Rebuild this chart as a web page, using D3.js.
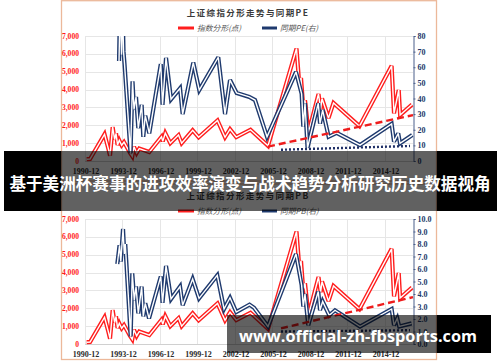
<!DOCTYPE html>
<html><head><meta charset="utf-8">
<script src="https://cdn.jsdelivr.net/npm/d3@7/dist/d3.min.js"></script>
<style>body{margin:0;background:#fff;overflow:hidden}svg{display:block}</style>
</head><body>
<script>
// ---------- DATA ----------
const xTickYears = [1990.917,1993.917,1996.917,1999.917,2002.917,2005.917,2008.917,2011.917,2014.917];
const xTickLabels = ["1990-12","1993-12","1996-12","1999-12","2002-12","2005-12","2008-12","2011-12","2014-12"];
const leftTicks = [0,1000,2000,3000,4000,5000,6000,7000];
const peTicks = [0,10,20,30,40,50,60,70,80];
const pbTicks = [0,1,2,3,4,5,6,7,8,9,10];
const titles = ["上证综指分形走势与同期PE","上证综指分形走势与同期PB"];
const legendIndex = "指数分形(点)";
const legendPE = "同期PE(右)";
const legendPB = "同期PB(右)";
const bannerText = "基于美洲杯赛事的进攻效率演变与战术趋势分析研究历史数据视角";
const watermarkText = "www.official-zh-fbsports.com";

// index fractal (points) : [year, value]
const indexFractal = [
 [1991.05,100],[1991.32,110],[1992.48,1500],[1992.78,700],[1992.92,300],[1993.13,1900],
 [1993.29,1200],[1993.40,1550],[1993.52,900],[1993.66,1160],[1993.85,880],[1994.04,1060],
 [1994.52,450],[1994.70,260],[1994.84,800],[1995.05,450],[1995.26,700],[1996.06,500],
 [1997.04,1360],[1997.14,1100],[1997.34,1560],[1997.74,1000],[1998.40,1450],[1998.65,1000],
 [1999.53,1720],[2000.01,1330],[2001.52,2270],[2002.12,1330],[2002.52,1780],[2003.02,1340],
 [2004.16,1750],[2005.56,850],[2007.84,6300],[2008.06,4300],[2008.20,4650],[2008.38,3000],
 [2008.52,3400],[2008.80,1600],[2009.60,3750],[2009.77,2900],[2009.88,3500],[2010.40,2400],
 [2010.80,3250],[2012.88,1950],[2015.45,5330],[2015.64,2670],[2016.02,3976],[2016.13,2576],
 [2017.08,3160]
];
// PE (right axis)
const peSeries = [
 [1993.64,64],[1993.72,100],[1993.84,68],[1993.92,100],[1994.00,70],[1994.08,62],
 [1994.56,5],[1994.72,51],[1994.84,33],[1995.00,41],[1995.18,21],[1995.45,36],
 [1995.58,15.5],[1995.74,29],[1996.06,17.7],[1996.98,62],[1997.12,36],[1997.40,66],
 [1997.80,39.5],[1998.52,46.5],[1998.73,30],[1999.58,63],[2000.06,45.4],[2001.58,66.4],
 [2002.12,30],[2002.52,51.8],[2003.05,43.5],[2004.06,41],[2004.52,39],[2005.48,15.5],
 [2007.80,57],[2008.25,43],[2008.38,22],[2008.52,37],[2008.72,8.5],[2009.58,37],
 [2009.72,24],[2009.93,32.6],[2010.41,15.5],[2011.05,18],[2012.92,10.2],[2015.45,23.7],
 [2015.64,12.4],[2015.98,17.7],[2016.12,11.3],[2017.10,16.6]
];
// PB (right axis)
const pbSeries = [
 [1993.50,6.4],[1993.68,7.9],[1993.78,6.6],[1993.96,9.2],[1994.06,7.2],[1994.14,8.0],
 [1994.57,0.6],[1994.70,5.65],[1994.86,3.5],[1995.00,4.6],[1995.18,2.45],[1995.45,4.6],
 [1995.58,2.2],[1995.74,3.25],[1996.04,2.05],[1996.98,5.4],[1997.12,3.3],[1997.40,6.25],
 [1997.80,3.6],[1998.52,4.6],[1998.73,3.1],[1999.53,5.2],[2000.04,3.65],[2001.50,5.5],
 [2002.04,2.8],[2002.52,3.7],[2003.02,2.55],[2004.08,3.15],[2004.44,2.9],[2005.56,1.4],
 [2007.80,7.2],[2008.25,4.7],[2008.38,3.0],[2008.52,4.0],[2008.78,1.5],[2009.58,4.2],
 [2009.72,2.7],[2009.93,3.4],[2010.46,2.3],[2010.92,2.7],[2012.92,1.4],[2015.45,2.8],
 [2015.64,1.5],[2015.90,2.05],[2016.06,1.4],[2017.05,1.65]
];
const peTrend = [[2005.56,9.2],[2017.16,29.4]];
const peFloor = [[2006.60,7.2],[2016.92,9.6]];
const pbTrend = [[2006.60,1.25],[2017.16,3.75]];
const pbFloor = [[2006.60,1.0],[2016.92,1.1]];

// ---------- DRAW ----------
const W = 500, H = 362;
const RED = "#ff1e1e", NAVY = "#1f3a6e";
const svg = d3.select("body").append("svg").attr("width", W).attr("height", H);
const x = d3.scaleLinear().domain([1990.917, 2017.16]).range([85, 413]);

function drawChart(cfg, idx) {
  const plotTop = cfg.plotTop, plotBot = plotTop + 125;
  const yL = d3.scaleLinear().domain([0, 7000]).range([plotBot, plotTop]);
  const yR = d3.scaleLinear().domain([0, cfg.rightMax]).range([plotBot, plotTop]);
  const g = svg.append("g");

  g.append("rect").attr("x", 61.5).attr("y", cfg.boxTop).attr("width", 375)
   .attr("height", cfg.boxBot - cfg.boxTop).attr("fill", "#fff")
   .attr("stroke", "#ecb89a").attr("stroke-width", 1.3);

  g.append("text").attr("x", 248).attr("y", plotTop - 20).attr("text-anchor", "middle")
   .attr("font-family", "Noto Sans CJK SC").attr("font-weight", "bold").attr("font-size", 8.5)
   .attr("letter-spacing", 1.4).attr("fill", "#3a3a3a").text(cfg.title);

  const ly = plotTop - 8;
  g.append("line").attr("x1", 178).attr("x2", 194).attr("y1", ly).attr("y2", ly)
   .attr("stroke", RED).attr("stroke-width", 3);
  g.append("text").attr("x", 197).attr("y", ly + 3).attr("font-family", "Noto Sans CJK SC")
   .attr("font-style", "italic").attr("font-size", 7.8).attr("fill", "#555").text(legendIndex);
  g.append("line").attr("x1", 262).attr("x2", 277).attr("y1", ly).attr("y2", ly)
   .attr("stroke", NAVY).attr("stroke-width", 3);
  g.append("text").attr("x", 280).attr("y", ly + 3).attr("font-family", "Noto Sans CJK SC")
   .attr("font-style", "italic").attr("font-size", 7.8).attr("fill", "#555").text(cfg.legend2);

  g.selectAll(".hg").data(leftTicks).join("line")
   .attr("x1", 85).attr("x2", 413).attr("y1", d => Math.round(yL(d)) + 0.5).attr("y2", d => Math.round(yL(d)) + 0.5)
   .attr("stroke", "#e6e6e6").attr("stroke-width", 1);
  g.selectAll(".vg").data(xTickYears).join("line")
   .attr("x1", d => Math.round(x(d)) + 0.5).attr("x2", d => Math.round(x(d)) + 0.5)
   .attr("y1", plotTop).attr("y2", plotBot)
   .attr("stroke", "#e6e6e6").attr("stroke-width", 1);
  g.append("line").attr("x1", 85).attr("x2", 413).attr("y1", plotBot + 0.5).attr("y2", plotBot + 0.5)
   .attr("stroke", "#d0d0d0");

  g.selectAll(".ll").data(leftTicks).join("text")
   .attr("x", 79).attr("y", d => yL(d) + 2.6).attr("text-anchor", "end")
   .attr("font-family", "Liberation Serif").attr("font-weight", "bold").attr("font-size", 7.6)
   .attr("fill", "#ff1a1a").text(d => d3.format(",")(d));

  const ra = g.append("g").attr("transform", `translate(413.5,0)`)
   .call(d3.axisRight(yR).tickValues(cfg.rightTicks).tickSize(2).tickFormat(cfg.rightFmt).tickPadding(2));
  ra.select(".domain").attr("stroke", "#4a5f8a");
  ra.selectAll(".tick line").attr("stroke", "#4a5f8a");
  ra.selectAll("text").attr("font-family", "Liberation Serif").attr("font-weight", "bold")
   .attr("font-size", 8).attr("fill", "#22386a");

  g.selectAll(".xl").data(xTickYears).join("text")
   .attr("x", (d) => x(d) + 1).attr("y", plotBot + 13).attr("text-anchor", "middle")
   .attr("font-family", "Liberation Serif").attr("font-weight", "bold").attr("font-size", 8)
   .attr("fill", "#2a2a2a").text((d, i) => xTickLabels[i]);

  const cid = "clip" + idx;
  svg.append("clipPath").attr("id", cid).append("rect")
   .attr("x", 85).attr("y", plotTop).attr("width", 330).attr("height", 130);
  const s = g.append("g").attr("clip-path", `url(#${cid})`);

  const lineL = d3.line().x(d => x(d[0])).y(d => yL(d[1]));
  const lineR = d3.line().x(d => x(d[0])).y(d => yR(d[1]));

  function dbl(path, color) {
    s.append("path").attr("d", path).attr("fill", "none").attr("stroke", color)
     .attr("stroke-width", 4.2).attr("stroke-linejoin", "miter").attr("stroke-miterlimit", 3);
    s.append("path").attr("d", path).attr("fill", "none").attr("stroke", "#fff")
     .attr("stroke-width", 1.4).attr("stroke-linejoin", "miter").attr("stroke-miterlimit", 3);
  }
  dbl(lineL(indexFractal), RED);
  dbl(lineR(cfg.rightSeries), NAVY);

  s.append("path").attr("d", lineR(cfg.trend)).attr("fill", "none").attr("stroke", "#ee1c1c")
   .attr("stroke-width", 2.4).attr("stroke-dasharray", "7,4");
  s.append("path").attr("d", lineR(cfg.floor)).attr("fill", "none").attr("stroke", "#1f2f66")
   .attr("stroke-width", 2.4).attr("stroke-dasharray", "2,2");
}

drawChart({plotTop: 36, boxTop: 0.7, boxBot: 181, title: titles[0], legend2: legendPE,
  rightMax: 80, rightTicks: peTicks, rightFmt: d3.format("d"), rightSeries: peSeries,
  trend: peTrend, floor: peFloor}, 0);
drawChart({plotTop: 219, boxTop: 184, boxBot: 359.5, title: titles[1], legend2: legendPB,
  rightMax: 10, rightTicks: pbTicks, rightFmt: d3.format(".1f"), rightSeries: pbSeries,
  trend: pbTrend, floor: pbFloor}, 1);

// banner overlay
svg.append("rect").attr("x", 4).attr("y", 151).attr("width", 57.5).attr("height", 60).attr("fill", "#000");
svg.append("rect").attr("x", 436.5).attr("y", 151).attr("width", 60.5).attr("height", 60).attr("fill", "#000");
svg.append("rect").attr("x", 61.5).attr("y", 151).attr("width", 375).attr("height", 60).attr("fill", "rgba(0,0,0,0.62)");
svg.append("text").attr("x", 250).attr("y", 190).attr("text-anchor", "middle")
 .attr("font-family", "Noto Sans CJK SC").attr("font-weight", "bold").attr("font-size", 16.6)
 .attr("fill", "#fff").text(bannerText);

// watermark
svg.append("rect").attr("x", 227).attr("y", 315).attr("width", 209.5).attr("height", 38).attr("fill", "rgba(0,0,0,0.62)");
svg.append("rect").attr("x", 436.5).attr("y", 315).attr("width", 54.5).attr("height", 38).attr("fill", "#000");
svg.append("text").attr("x", 358).attr("y", 342).attr("text-anchor", "middle")
 .attr("font-family", "Open Sans").attr("font-weight", "bold").attr("font-size", 16.3)
 .attr("fill", "#fff").text(watermarkText);
</script>
</body></html>
